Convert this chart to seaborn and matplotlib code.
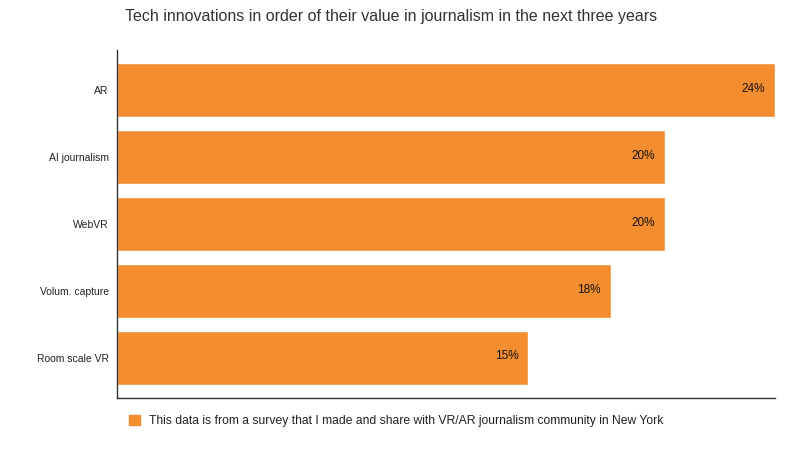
import matplotlib
matplotlib.use('Agg')
import matplotlib.pyplot as plt
import matplotlib.patches as mpatches
import pandas as pd
import seaborn as sns

categories = ['AR', 'AI journalism', 'WebVR', 'Volum. capture', 'Room scale VR']
values = [24, 20, 20, 18, 15]
legend_text = 'This data is from a survey that I made and share with VR/AR journalism community in New York'
title = 'Tech innovations in order of their value in journalism in the next three years'

BAR_COLOR = '#F48D2F'

sns.set_style('white')
plt.rcParams['font.family'] = ['Liberation Sans', 'DejaVu Sans']

df = pd.DataFrame({'tech': categories, 'share': values})

fig = plt.figure(figsize=(8, 4.5), dpi=100)
ax = fig.add_axes([117/800, 1 - 398/450, (775-117)/800, (398-50)/450])

sns.barplot(data=df, y='tech', x='share', orient='h', color=BAR_COLOR,
            saturation=1, width=0.806, ax=ax)

ax.set_xlim(0, 24)
ax.set_ylim(4.6, -0.6)
ax.set_xlabel('')
ax.set_ylabel('')
ax.set_xticks([])
ax.tick_params(axis='y', length=0, labelsize=7.5, labelcolor='#222222', pad=6)

for s in ['top', 'right']:
  ax.spines[s].set_visible(False)
for s in ['left', 'bottom']:
  ax.spines[s].set_color('#333333')
  ax.spines[s].set_linewidth(1)

for i, v in enumerate(values):
  ax.annotate(f'{v}%', (v, i), xytext=(-7.2, 1.0), textcoords='offset points',
              ha='right', va='center', fontsize=8.5, color='#111111')

fig.text(125/800, 1 - 16/450, title, fontsize=11.5, color='#333333', ha='left', va='center')

handle = mpatches.Patch(color=BAR_COLOR, label=legend_text)
fig.legend(handles=[handle], loc='center left', bbox_to_anchor=(118/800, 1 - 421/450),
           frameon=False, fontsize=8.7, handlelength=0.95, handleheight=0.95,
           handletextpad=0.75, labelcolor='#222222')

fig.savefig('out.png', dpi=100)
